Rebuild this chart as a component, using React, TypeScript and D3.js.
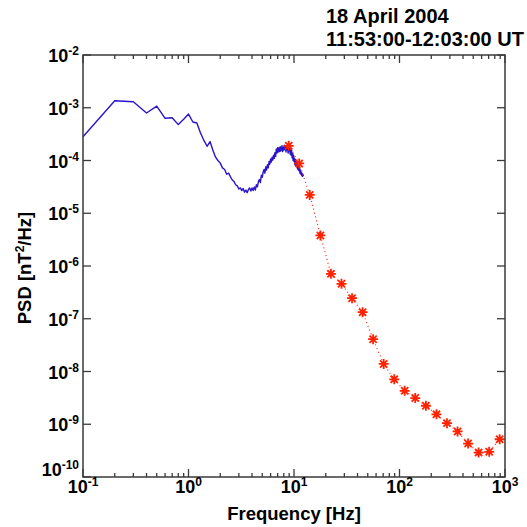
import * as d3 from 'd3'

// measured spectrum (blue), 0.1 Hz resolution
const specFreq = [
  0.1, 0.2, 0.3, 0.4, 0.5, 0.6, 0.7, 0.8, 0.9, 1.0,
  1.1, 1.2, 1.3, 1.4, 1.5, 1.6, 1.7, 1.8, 1.9, 2.0,
  2.1, 2.2, 2.3, 2.4, 2.5, 2.6, 2.7, 2.8, 2.9, 3.0,
  3.1, 3.2, 3.3, 3.4, 3.5, 3.6, 3.7, 3.8, 3.9, 4.0,
  4.1, 4.2, 4.3, 4.4, 4.5, 4.6, 4.7, 4.8, 4.9, 5.0,
  5.1, 5.2, 5.3, 5.4, 5.5, 5.6, 5.7, 5.8, 5.9, 6.0,
  6.1, 6.2, 6.3, 6.4, 6.5, 6.6, 6.7, 6.8, 6.9, 7.0,
  7.1, 7.2, 7.3, 7.4, 7.5, 7.6, 7.7, 7.8, 7.9, 8.0,
  8.1, 8.2, 8.3, 8.4, 8.5, 8.6, 8.7, 8.8, 8.9, 9.0,
  9.1, 9.2, 9.3, 9.4, 9.5, 9.6, 9.7, 9.8, 9.9, 10.0,
  10.1, 10.2, 10.3, 10.4, 10.5, 10.6, 10.7, 10.8, 10.9, 11.0,
  11.1, 11.2, 11.3, 11.4, 11.5, 11.6, 11.7, 11.8, 11.9, 12.0,
  12.1, 12.2, 12.3,
]
const specPsd = [
  2.82e-4, 1.36e-3, 1.3e-3, 7.94e-4, 1.07e-3, 6.31e-4, 6.46e-4, 4.79e-4, 6.03e-4, 7.59e-4,
  5.37e-4, 5.13e-4, 3.31e-4, 2.4e-4, 1.86e-4, 2.29e-4, 1.58e-4, 1.17e-4, 1.0e-4, 8.91e-5,
  7.24e-5, 6.76e-5, 5.5e-5, 5.75e-5, 4.9e-5, 4.27e-5, 3.98e-5, 3.47e-5, 3.31e-5, 2.88e-5,
  3.02e-5, 2.69e-5, 2.95e-5, 2.51e-5, 2.75e-5, 2.45e-5, 2.82e-5, 3.02e-5, 2.63e-5, 3.02e-5,
  2.69e-5, 3.16e-5, 2.75e-5, 3.47e-5, 3.16e-5, 3.98e-5, 4.37e-5, 3.8e-5, 5.25e-5, 4.79e-5,
  6.03e-5, 6.76e-5, 5.75e-5, 7.59e-5, 6.61e-5, 8.32e-5, 7.24e-5, 9.55e-5, 8.51e-5, 1.07e-4,
  9.33e-5, 1.15e-4, 1.02e-4, 1.26e-4, 1.1e-4, 1.41e-4, 1.2e-4, 1.66e-4, 1.38e-4, 1.74e-4,
  1.45e-4, 1.74e-4, 1.48e-4, 1.82e-4, 1.51e-4, 1.7e-4, 1.91e-4, 1.48e-4, 1.78e-4, 1.58e-4,
  1.95e-4, 1.62e-4, 1.82e-4, 1.45e-4, 1.91e-4, 1.58e-4, 1.78e-4, 1.38e-4, 1.86e-4, 1.51e-4,
  1.74e-4, 1.32e-4, 1.62e-4, 1.26e-4, 1.58e-4, 1.12e-4, 1.38e-4, 1.0e-4, 1.26e-4, 9.55e-5,
  1.1e-4, 8.32e-5, 1.05e-4, 7.94e-5, 9.55e-5, 7.59e-5, 8.91e-5, 6.92e-5, 7.94e-5, 6.61e-5,
  7.59e-5, 6.31e-5, 7.08e-5, 5.75e-5, 6.61e-5, 5.5e-5, 6.03e-5, 5.25e-5, 5.75e-5, 5.01e-5,
  5.5e-5, 5.13e-5, 5.37e-5,
]

// filter-bank spectrum (red stars)
const bankFreq = [8.91, 11.2, 14.1, 17.8, 22.4, 28.2, 35.5, 44.7, 56.2, 70.8, 89.1, 112, 141, 178, 224, 282, 355, 447, 562, 708, 891]
const bankPsd = [
  1.9e-4, 8.8e-5, 2.23e-5, 3.8e-6, 7.1e-7, 4.6e-7, 2.45e-7, 1.33e-7, 4.1e-8, 1.39e-8,
  7.1e-9, 4.3e-9, 3.14e-9, 2.24e-9, 1.54e-9, 1.05e-9, 7.3e-10, 4.3e-10, 2.9e-10, 3.0e-10, 5.2e-10,
]

const xDecades = [-1, 0, 1, 2, 3]
const yDecades = [-10, -9, -8, -7, -6, -5, -4, -3, -2]
const titleLines = ['18 April 2004', '11:53:00-12:03:00 UT']

const W = 527
const H = 527
const left = 83, right = 505, top = 55, bottom = 477
const font = '"Liberation Sans", Arial, sans-serif'
const axisColor = '#3a3a3a'
const blue = '#2a14cc'
const red = '#ff2200'

export default function App() {
  const x = d3.scaleLog().domain([0.1, 1000]).range([left, right])
  const y = d3.scaleLog().domain([1e-10, 1e-2]).range([bottom, top])

  const blueLine = d3.line<number>().x((_, i) => x(specFreq[i])).y(d => y(d))(specPsd)
  const redLine = d3.line<number>().x((_, i) => x(bankFreq[i])).y(d => y(d))(bankPsd)

  // minor x ticks: 2..9 within each decade
  const minorX: number[] = []
  xDecades.slice(0, -1).forEach(e => {
    for (let m = 2; m <= 9; m++) minorX.push(m * Math.pow(10, e))
  })

  const star = 'M-5,0H5M0,-5V5M-3.6,-3.6L3.6,3.6M-3.6,3.6L3.6,-3.6'

  return (
    <svg width={W} height={H} style={{ position: 'absolute', left: 0, top: 0, background: '#fff' }} fontFamily={font}>
      {/* title */}
      <g fontWeight="bold" fontSize={20} fill="#000">
        {titleLines.map((t, i) => (
          <text key={t} x={326} y={23 + i * 23}>{t}</text>
        ))}
      </g>

      {/* data */}
      <path d={blueLine ?? ''} fill="none" stroke={blue} strokeWidth={1.4} strokeLinejoin="round" />
      <path d={redLine ?? ''} fill="none" stroke={red} strokeWidth={1.2} strokeDasharray="1 3" />
      {bankFreq.map((f, i) => (
        <path key={f} d={star} transform={`translate(${x(f)},${y(bankPsd[i])})`} stroke={red} strokeWidth={1.8} fill="none" />
      ))}

      {/* axes box and ticks */}
      <g stroke={axisColor} strokeWidth={1.3}>
        <rect x={left} y={top} width={right - left} height={bottom - top} fill="none" strokeWidth={1.5} />
        {xDecades.map(e => {
          const px = x(Math.pow(10, e))
          return (
            <g key={'xm' + e}>
              <line x1={px} x2={px} y1={bottom} y2={bottom - 8} />
              <line x1={px} x2={px} y1={top} y2={top + 8} />
            </g>
          )
        })}
        {minorX.map(v => (
          <g key={'xn' + v}>
            <line x1={x(v)} x2={x(v)} y1={bottom} y2={bottom - 4} />
            <line x1={x(v)} x2={x(v)} y1={top} y2={top + 4} />
          </g>
        ))}
        {yDecades.map(e => {
          const py = y(Math.pow(10, e))
          return (
            <g key={'ym' + e}>
              <line x1={left} x2={left + 8} y1={py} y2={py} />
              <line x1={right} x2={right - 8} y1={py} y2={py} />
            </g>
          )
        })}
      </g>

      {/* tick labels */}
      <g fontWeight="bold" fontSize={18} fill="#000">
        {xDecades.map(e => (
          <text key={'xl' + e} x={x(Math.pow(10, e))} y={bottom + 16} textAnchor="middle">
            10<tspan fontSize={12} dy={-7}>{e}</tspan>
          </text>
        ))}
        {yDecades.map(e => (
          <text key={'yl' + e} x={left - 4} y={e === -10 ? bottom - 1 : y(Math.pow(10, e)) + 7} textAnchor="end">
            10<tspan fontSize={12} dy={-7}>{e}</tspan>
          </text>
        ))}
      </g>

      {/* axis labels */}
      <text x={(left + right) / 2} y={520} textAnchor="middle" fontWeight="bold" fontSize={18.5}>Frequency [Hz]</text>
      <text transform={`translate(31,${(top + bottom) / 2 + 2}) rotate(-90)`} textAnchor="middle" fontWeight="bold" fontSize={18.5}>
        PSD [nT<tspan fontSize={12} dy={-7}>2</tspan><tspan dy={7}>/Hz]</tspan>
      </text>
    </svg>
  )
}
